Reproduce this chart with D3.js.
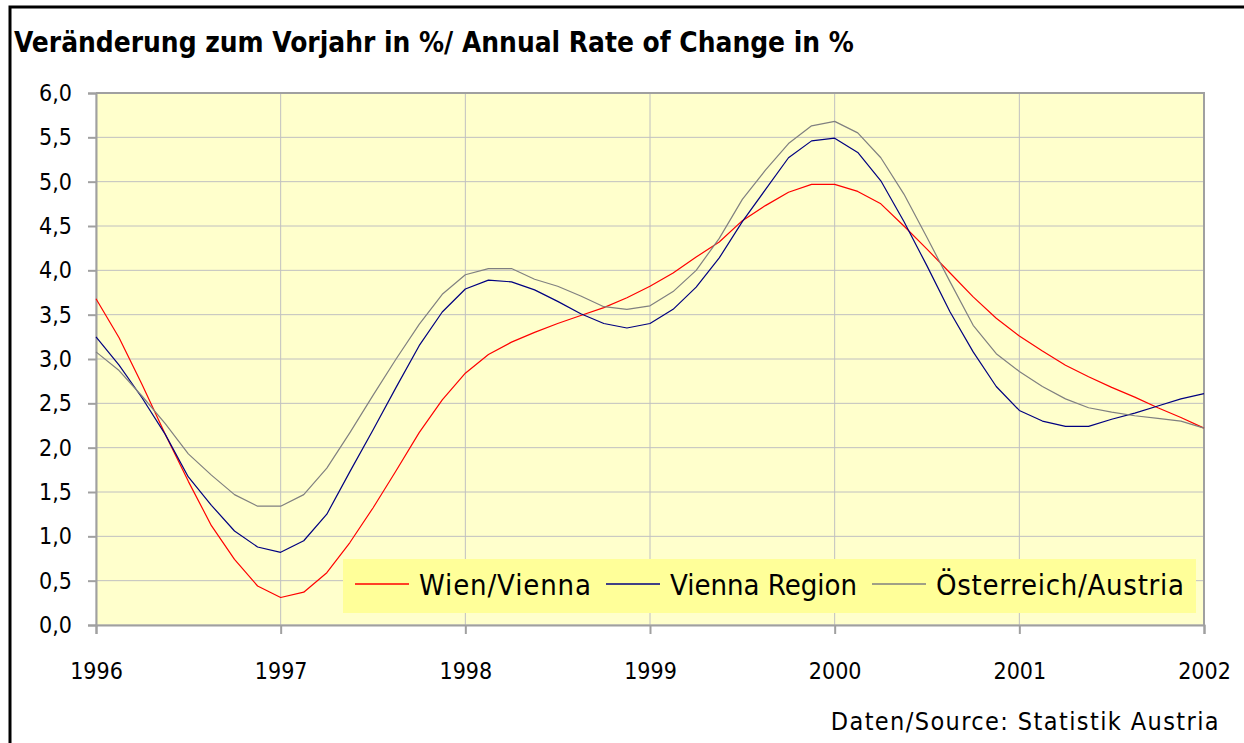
<!DOCTYPE html>
<html>
<head>
<meta charset="utf-8">
<script src="https://cdn.jsdelivr.net/npm/d3@7"></script>
<style>
  body { margin: 0; background: #fff; }
  svg { display: block; font-family: "DejaVu Sans Condensed", "DejaVu Sans", sans-serif; }
</style>
</head>
<body>
<div id="container"></div>
<script>
// Chart dimensions and plot margins.
const width = 1244;
const height = 743;
const marginTop = 93;
const marginRight = 40;
const marginBottom = 118;
const marginLeft = 96;

// Data: values every 1/8 year from 1996 to 2002.
const steps = d3.range(0, 49).map((i) => 1996 + i / 8);

const wien = [
  3.68, 3.24, 2.71, 2.15, 1.62, 1.12, 0.74, 0.44,
  0.31, 0.37, 0.59, 0.93, 1.32, 1.74, 2.17, 2.54,
  2.84, 3.05, 3.19, 3.30, 3.40, 3.49, 3.58, 3.69,
  3.82, 3.97, 4.15, 4.32, 4.56, 4.73, 4.88, 4.97,
  4.97, 4.89, 4.75, 4.50, 4.24, 3.97, 3.70, 3.46,
  3.26, 3.09, 2.93, 2.80, 2.68, 2.57, 2.45, 2.34,
  2.22
];

const viennaRegion = [
  3.25, 2.93, 2.56, 2.15, 1.67, 1.35, 1.06, 0.88,
  0.82, 0.95, 1.25, 1.73, 2.20, 2.68, 3.15, 3.53,
  3.79, 3.89, 3.87, 3.78, 3.65, 3.51, 3.40, 3.35,
  3.40, 3.56, 3.81, 4.14, 4.55, 4.91, 5.27, 5.46,
  5.49, 5.33, 5.01, 4.55, 4.05, 3.53, 3.08, 2.69,
  2.42, 2.30, 2.24, 2.24, 2.32, 2.39, 2.47, 2.55,
  2.61
];

const oesterreich = [
  3.08, 2.87, 2.58, 2.27, 1.93, 1.69, 1.47, 1.34,
  1.34, 1.47, 1.77, 2.17, 2.59, 3.00, 3.39, 3.73,
  3.95, 4.02, 4.02, 3.90, 3.82, 3.71, 3.59, 3.56,
  3.60, 3.76, 4.00, 4.36, 4.80, 5.13, 5.43, 5.63,
  5.68, 5.55, 5.27, 4.86, 4.37, 3.87, 3.38, 3.06,
  2.86, 2.69, 2.55, 2.45, 2.40, 2.36, 2.33, 2.30,
  2.22
];

const seriesNames = ["Wien/Vienna", "Vienna Region", "Österreich/Austria"];
const seriesColors = ["#ff0000", "#000080", "#808080"];
const xTicks = [1996, 1997, 1998, 1999, 2000, 2001, 2002];
const yTicks = [0, 0.5, 1, 1.5, 2, 2.5, 3, 3.5, 4, 4.5, 5, 5.5, 6];

const series = [wien, viennaRegion, oesterreich].map((values, i) => ({
  name: seriesNames[i],
  color: seriesColors[i],
  points: values.map((v, j) => [steps[j], v])
}));

// Scales.
const x = d3.scaleLinear()
  .domain([1996, 2002])
  .range([marginLeft, width - marginRight]);

const y = d3.scaleLinear()
  .domain([0, 6])
  .range([height - marginBottom, marginTop]);

const svg = d3.create("svg").attr("width", width).attr("height", height);

// Outer black frame (right and bottom fall outside the picture).
svg.append("rect")
  .attr("x", 10).attr("y", 7)
  .attr("width", width + 20).attr("height", height + 20)
  .attr("fill", "#fff")
  .attr("stroke", "#000")
  .attr("stroke-width", 3);

// Title.
svg.append("text")
  .attr("x", 14).attr("y", 52)
  .attr("font-size", 27.8)
  .attr("font-weight", "bold")
  .attr("fill", "#000")
  .text("Veränderung zum Vorjahr in %/ Annual Rate of Change in %");

// Plot background.
svg.append("rect")
  .attr("x", x(1996)).attr("y", y(6))
  .attr("width", x(2002) - x(1996))
  .attr("height", y(0) - y(6))
  .attr("fill", "#ffffcc");

// Gridlines.
svg.append("g")
  .attr("stroke", "#c0c0c0")
  .attr("stroke-width", 1)
  .call((g) => g.selectAll("line.h").data(yTicks).join("line")
    .attr("class", "h")
    .attr("x1", x(1996)).attr("x2", x(2002))
    .attr("y1", (d) => y(d)).attr("y2", (d) => y(d)))
  .call((g) => g.selectAll("line.v").data(xTicks).join("line")
    .attr("class", "v")
    .attr("x1", (d) => x(d)).attr("x2", (d) => x(d))
    .attr("y1", y(6)).attr("y2", y(0)));

// Plot border on top and right.
svg.append("path")
  .attr("d", `M${x(1996)},${y(6)}H${x(2002)}V${y(0)}`)
  .attr("fill", "none")
  .attr("stroke", "#a0a0a0")
  .attr("stroke-width", 2);

// Y axis.
svg.append("g")
  .attr("transform", `translate(${marginLeft},0)`)
  .call(d3.axisLeft(y).tickValues(yTicks).tickSize(8).tickPadding(16)
    .tickFormat((d) => d3.format(".1f")(d).replace(".", ",")))
  .call((g) => g.selectAll(".domain, line").attr("stroke", "#a0a0a0").attr("stroke-width", 2))
  .call((g) => g.selectAll("text")
    .attr("font-family", "DejaVu Sans Condensed, DejaVu Sans, sans-serif")
    .attr("font-size", 23).attr("fill", "#000"));

// X axis.
svg.append("g")
  .attr("transform", `translate(0,${height - marginBottom})`)
  .call(d3.axisBottom(x).tickValues(xTicks).tickSize(9).tickPadding(29)
    .tickFormat(d3.format("d")))
  .call((g) => g.selectAll(".domain, line").attr("stroke", "#a0a0a0").attr("stroke-width", 2))
  .call((g) => g.selectAll("text")
    .attr("font-family", "DejaVu Sans Condensed, DejaVu Sans, sans-serif")
    .attr("font-size", 23).attr("fill", "#000"));

// Lines.
const line = d3.line()
  .x((d) => x(d[0]))
  .y((d) => y(d[1]));

svg.append("g")
  .selectAll("path")
  .data(series)
  .join("path")
  .attr("fill", "none")
  .attr("stroke", (d) => d.color)
  .attr("stroke-width", 1.2)
  .attr("stroke-linejoin", "round")
  .attr("d", (d) => line(d.points));

// Legend.
const legend = svg.append("g");
legend.append("rect")
  .attr("x", 343).attr("y", 559)
  .attr("width", 853).attr("height", 54)
  .attr("fill", "#ffff99");

const legendX = [355, 606, 872];
const legendWidths = [172, 187, 248];
const item = legend.selectAll("g.item")
  .data(series)
  .join("g")
  .attr("class", "item")
  .attr("transform", (d, i) => `translate(${legendX[i]},584)`);

item.append("line")
  .attr("x1", 0).attr("x2", 54)
  .attr("stroke", (d) => d.color)
  .attr("stroke-width", 1.5);

item.append("text")
  .attr("x", 64).attr("y", 11)
  .attr("font-size", 29)
  .attr("textLength", (d, i) => legendWidths[i])
  .attr("lengthAdjust", "spacing")
  .attr("fill", "#000")
  .text((d) => d.name);

// Source note.
svg.append("text")
  .attr("x", 1220).attr("y", 730)
  .attr("text-anchor", "end")
  .attr("font-size", 25)
  .attr("letter-spacing", 1.4)
  .attr("fill", "#000")
  .text("Daten/Source: Statistik Austria");

document.getElementById("container").append(svg.node());
</script>
</body>
</html>
